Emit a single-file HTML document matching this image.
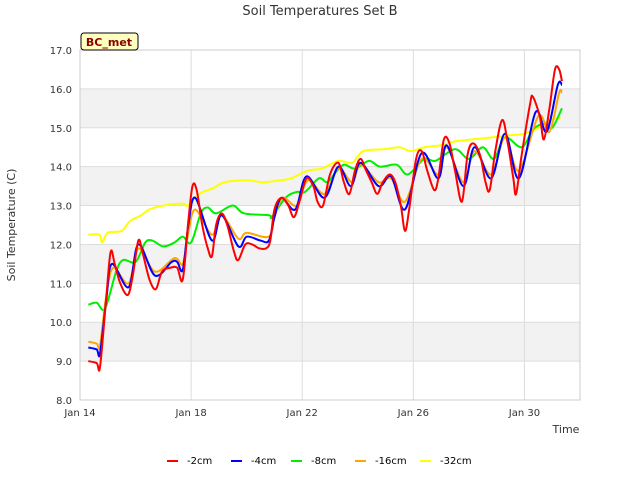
<!DOCTYPE html>
<html><head><meta charset="utf-8"><style>
body{margin:0;background:#fff;font-family:"Liberation Sans","DejaVu Sans",sans-serif;}
svg text{font-family:"DejaVu Sans","Liberation Sans",sans-serif;}
</style></head><body>
<svg id="chart" width="640" height="480" xmlns="http://www.w3.org/2000/svg">
<text x="320" y="15" text-anchor="middle" font-size="13" fill="#333">Soil Temperatures Set B</text>
<g id="grid"></g>
<g id="series"></g>
<g id="axes"></g>
<rect x="81" y="33" width="57" height="17" fill="#ffffc0" stroke="#000" stroke-width="1" rx="3"/>
<text x="109" y="46" text-anchor="middle" font-size="11" font-weight="bold" fill="#8b0000">BC_met</text>
<text x="15" y="225" transform="rotate(-90 15 225)" text-anchor="middle" font-size="11" fill="#333">Soil Temperature (C)</text>
<text x="566" y="433" text-anchor="middle" font-size="11" fill="#333">Time</text>
<g id="legend"></g>
</svg>
<script>
const yTicks=[8,9,10,11,12,13,14,15,16,17];
const xTickDays=[0,4,8,12,16];
const xTickLabels=["Jan 14","Jan 18","Jan 22","Jan 26","Jan 30"];
const seriesNames=["-2cm","-4cm","-8cm","-16cm","-32cm"];
const seriesColors=["#ff0000","#0000ff","#00ee00","#ffa500","#ffff00"];
const t2=[0.3,0.6,0.72,0.93,1.1,1.25,1.45,1.72,1.9,2.1,2.25,2.5,2.73,2.95,3.25,3.5,3.7,3.9,4.05,4.2,4.4,4.6,4.75,4.9,5.1,5.3,5.55,5.7,5.95,6.2,6.45,6.7,6.85,7.0,7.25,7.5,7.7,7.9,8.15,8.4,8.55,8.75,9.0,9.3,9.5,9.7,9.9,10.1,10.3,10.5,10.7,10.9,11.15,11.35,11.55,11.7,11.85,12.1,12.3,12.5,12.75,12.9,13.1,13.3,13.5,13.75,13.95,14.15,14.4,14.6,14.75,14.95,15.2,15.4,15.6,15.7,15.9,16.2,16.3,16.55,16.7,16.9,17.1,17.25,17.35];
const v2=[9.0,8.95,8.85,10.5,11.8,11.5,11.0,10.7,11.2,12.1,11.8,11.1,10.85,11.3,11.4,11.4,11.1,12.6,13.5,13.4,12.5,11.9,11.7,12.5,12.8,12.5,11.8,11.6,12.0,12.0,11.9,11.9,12.1,12.9,13.2,13.0,12.7,13.1,13.7,13.5,13.1,13.0,13.8,14.1,13.6,13.3,13.9,14.2,13.9,13.6,13.3,13.6,13.8,13.6,13.0,12.35,12.9,14.2,14.4,13.9,13.4,13.7,14.7,14.6,13.9,13.1,14.3,14.6,14.3,13.6,13.4,14.4,15.2,14.6,13.7,13.3,14.3,15.6,15.8,15.3,14.7,15.5,16.5,16.5,16.2];
const t4=[0.3,0.6,0.72,0.95,1.15,1.75,2.1,2.7,3.3,3.5,3.7,3.9,4.15,4.75,5.1,5.7,6.0,6.5,6.8,7.0,7.25,7.75,8.15,8.8,9.3,9.75,10.1,10.75,11.2,11.7,12.3,12.9,13.2,13.8,14.2,14.8,15.3,15.8,16.4,16.8,17.2,17.35];
const v4=[9.35,9.3,9.2,10.6,11.5,10.9,12.0,11.2,11.55,11.55,11.35,12.5,13.2,12.1,12.75,11.95,12.2,12.1,12.1,12.7,13.2,12.9,13.75,13.2,14.0,13.5,14.1,13.5,13.75,12.9,14.35,13.7,14.55,13.5,14.5,13.7,14.85,13.7,15.4,14.9,16.1,16.1];
const t8=[0.3,0.6,0.9,1.3,1.55,2.0,2.35,2.6,3.0,3.4,3.7,4.0,4.35,4.6,4.9,5.5,5.9,6.8,6.9,7.4,7.8,8.1,8.6,8.9,9.2,9.5,9.9,10.4,10.8,11.4,11.8,12.4,12.8,13.5,14.0,14.5,14.9,15.3,15.9,16.3,16.7,17.0,17.35];
const v8=[10.45,10.5,10.35,11.3,11.6,11.55,12.05,12.1,11.95,12.05,12.2,12.05,12.8,12.95,12.8,13.0,12.8,12.75,12.7,13.2,13.35,13.35,13.7,13.6,13.85,14.05,13.95,14.15,14.0,14.05,13.8,14.2,14.15,14.45,14.2,14.5,14.2,14.75,14.5,14.95,15.1,15.0,15.5];
const t16=[0.3,0.6,0.72,0.95,1.2,1.75,2.1,2.7,3.4,3.7,3.9,4.15,4.75,5.1,5.7,6.0,6.8,7.0,7.3,7.8,8.2,8.8,9.3,9.8,10.1,10.75,11.2,11.7,12.3,12.9,13.2,13.8,14.2,14.8,15.3,15.8,16.5,16.9,17.25,17.35];
const v16=[9.5,9.45,9.4,10.7,11.4,11.0,11.9,11.3,11.65,11.5,12.3,12.9,12.25,12.75,12.15,12.3,12.2,12.7,13.2,13.0,13.65,13.3,13.95,13.6,14.05,13.6,13.7,13.1,14.2,13.8,14.5,13.6,14.4,13.8,14.75,13.9,15.3,14.9,15.9,15.9];
const t32=[0.3,0.7,0.8,1.0,1.5,1.8,2.2,2.5,3.0,3.7,3.9,4.3,4.8,5.2,6.0,6.6,7.2,7.6,8.2,8.7,9.3,9.8,10.2,11.0,11.5,11.9,12.4,13.0,13.5,14.1,14.8,15.4,16.0,16.5,16.9,17.3];
const v32=[12.25,12.25,12.05,12.3,12.35,12.6,12.75,12.9,13.0,13.05,13.0,13.3,13.45,13.6,13.65,13.6,13.65,13.7,13.9,13.95,14.15,14.1,14.4,14.45,14.5,14.4,14.5,14.55,14.65,14.7,14.75,14.8,14.85,15.0,15.2,15.25];

const X0=80,X1=580,Y0=50,Y1=400,DMAX=18,TMIN=8,TMAX=17;
function xs(d){return X0+(d/DMAX)*(X1-X0);}
function ys(v){return Y1-(v-TMIN)/(TMAX-TMIN)*(Y1-Y0);}
const NS="http://www.w3.org/2000/svg";
function mk(tag,attrs,parent){const e=document.createElementNS(NS,tag);for(const k in attrs)e.setAttribute(k,attrs[k]);parent.appendChild(e);return e;}
const grid=document.getElementById('grid'),axes=document.getElementById('axes'),ser=document.getElementById('series'),leg=document.getElementById('legend');
for(let i=0;i<yTicks.length-1;i++){
  if(yTicks[i]%2===1){const r=mk('rect',{x:X0,y:ys(yTicks[i+1]),width:X1-X0,height:ys(yTicks[i])-ys(yTicks[i+1]),fill:'#f2f2f2'},grid);
  
  }
}
yTicks.forEach(v=>{const l=mk('line',{x1:X0,x2:X1,y1:ys(v),y2:ys(v),stroke:'#dddddd','stroke-width':1},grid);
  
  
  const t=mk('text',{x:X0-8,y:ys(v)+4,'text-anchor':'end','font-size':10,fill:'#333'},axes);t.textContent=v.toFixed(1);
  
  });
xTickDays.forEach((d,i)=>{const l=mk('line',{x1:xs(d),x2:xs(d),y1:Y0,y2:Y1,stroke:'#dddddd','stroke-width':1},grid);
  
  
  const t=mk('text',{x:xs(d),y:Y1+16,'text-anchor':'middle','font-size':10,fill:'#333'},axes);t.textContent=xTickLabels[i];
  
  });
const frame=mk('rect',{x:X0,y:Y0,width:X1-X0,height:Y1-Y0,fill:'none',stroke:'#cccccc'},axes);


function smooth(ts,vs){const p=ts.map((t,i)=>[xs(t),ys(vs[i])]);let d='M'+p[0][0]+','+p[0][1];
  for(let i=0;i<p.length-1;i++){const a=p[Math.max(0,i-1)],b=p[i],c=p[i+1],e=p[Math.min(p.length-1,i+2)];
    const c1=[b[0]+(c[0]-a[0])/6,b[1]+(c[1]-a[1])/6],c2=[c[0]-(e[0]-b[0])/6,c[1]-(e[1]-b[1])/6];
    d+=' C'+c1[0]+','+c1[1]+' '+c2[0]+','+c2[1]+' '+c[0]+','+c[1];}return d;}
const allT=[t2,t4,t8,t16,t32],allV=[v2,v4,v8,v16,v32];
[4,2,3,1,0].forEach(i=>{const p=mk('path',{d:smooth(allT[i],allV[i]),fill:'none',stroke:seriesColors[i],'stroke-width':2},ser);
  
  });
const legX=[167,231,291,355,420];
seriesNames.forEach((n,i)=>{const g=mk('g',{},leg);
  
  
  mk('line',{x1:legX[i],x2:legX[i]+11,y1:461,y2:461,stroke:seriesColors[i],'stroke-width':2},g);
  const t=mk('text',{x:legX[i]+20,y:464,'font-size':10,fill:'#000'},g);t.textContent=n;});
</script>
</body></html>
